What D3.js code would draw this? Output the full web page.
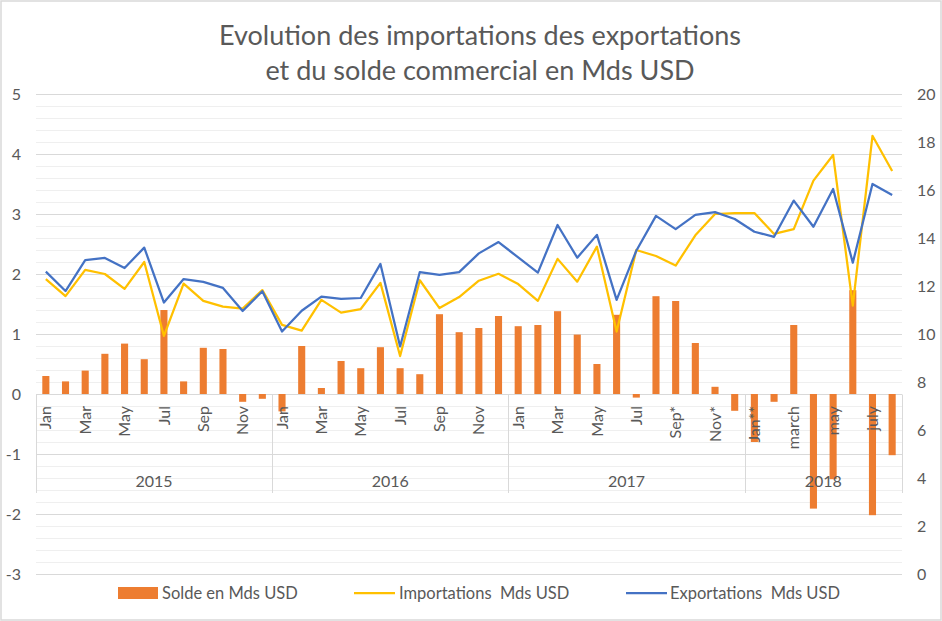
<!DOCTYPE html>
<html><head><meta charset="utf-8">
<script src="https://cdn.jsdelivr.net/npm/d3@7"></script>
<style>body{margin:0;background:#fff}svg{display:block}text{font-family:Lato,"Open Sans",sans-serif;fill:#595959;white-space:pre}</style>
</head><body>
<script>
const years = ["2015","2016","2017","2018"];
const monthLabels = [
 "Jan","Feb","Mar","Apr","May","Jun","Jul","Aug","Sep","Oct","Nov","Dec",
 "Jan","Feb","Mar","Apr","May","Jun","Jul","Aug","Sep","Oct","Nov","Dec",
 "Jan","Feb","Mar","Apr","May","Jun","Jul","Aug*","Sep*","Oct*","Nov*","Dec*",
 "Jan**","feb","march","april","may","june","july","august"];
const solde = [0.30,0.21,0.39,0.67,0.84,0.58,1.40,0.21,0.77,0.75,-0.13,-0.08,
 -0.29,0.80,0.10,0.55,0.43,0.78,0.43,0.33,1.33,1.03,1.10,1.30,
 1.13,1.15,1.38,0.99,0.50,1.32,-0.06,1.63,1.55,0.85,0.12,-0.28,
 -0.80,-0.13,1.15,-1.91,-1.42,1.73,-2.02,-1.02];
const exportations = [12.60,11.79,13.08,13.17,12.75,13.60,11.31,12.29,12.17,11.92,10.96,11.78,
 10.10,10.97,11.56,11.46,11.50,12.92,9.48,12.58,12.46,12.58,13.36,13.83,
 13.19,12.56,14.54,13.18,14.13,11.42,13.47,14.92,14.37,14.96,15.08,14.79,
 14.26,14.05,15.56,14.47,16.04,12.97,16.25,15.79];
const importations = [12.29,11.58,12.67,12.50,11.88,13.00,9.92,12.10,11.38,11.14,11.06,11.83,
 10.38,10.14,11.42,10.89,11.04,12.13,9.08,12.24,11.08,11.54,12.22,12.51,
 12.08,11.38,13.13,12.18,13.64,10.10,13.50,13.25,12.85,14.11,15.00,15.04,
 15.04,14.17,14.37,16.39,17.46,11.18,18.26,16.79];
const leftTicks = [-3,-2,-1,0,1,2,3,4,5];
const rightTicks = [0,2,4,6,8,10,12,14,16,18,20];
const seriesNames = ["Solde en Mds USD","Importations  Mds USD","Exportations  Mds USD"];
const titleLines = ["Evolution des importations des exportations","et du solde commercial en Mds USD"];

const W=942,H=621;
const L=36,R=902,T=94,B=574;
const svg=d3.select("body").append("svg").attr("width",W).attr("height",H);
svg.append("rect").attr("x",1).attr("y",1).attr("width",W-2).attr("height",H-2)
  .attr("fill","#fff").attr("stroke","#d9d9d9").attr("stroke-width",1.5);

const idx=d3.range(monthLabels.length);
const x=d3.scaleBand().domain(idx).range([L,R]).padding(0);
const yL=d3.scaleLinear().domain([-3,5]).range([B,T]);
const yR=d3.scaleLinear().domain([0,20]).range([B,T]);
const cx=i=>x(i)+x.bandwidth()/2;

// minor grid
const minor=d3.range(-3,5.001,0.2).filter(v=>Math.abs(v-Math.round(v))>1e-6);
svg.append("g").selectAll("line").data(minor).join("line")
  .attr("x1",L).attr("x2",R).attr("y1",d=>Math.round(yL(d))+0.5).attr("y2",d=>Math.round(yL(d))+0.5)
  .attr("stroke","#efefef").attr("stroke-width",1);
svg.append("g").selectAll("line").data(leftTicks).join("line")
  .attr("x1",L).attr("x2",R).attr("y1",d=>Math.round(yL(d))+0.5).attr("y2",d=>Math.round(yL(d))+0.5)
  .attr("stroke","#d9d9d9").attr("stroke-width",1);

// left axis
const gL=svg.append("g").attr("transform",`translate(21,0)`)
  .call(d3.axisLeft(yL).tickValues(leftTicks).tickSize(0).tickPadding(0).tickFormat(d=>String(d)));
gL.select(".domain").remove();
gL.selectAll("text").style("font-size","16px").attr("fill","#595959").style("font-family","Lato,sans-serif");
// right axis
const gR=svg.append("g").attr("transform",`translate(917,0)`)
  .call(d3.axisRight(yR).tickValues(rightTicks).tickSize(0).tickPadding(0).tickFormat(d=>String(d)));
gR.select(".domain").remove();
gR.selectAll("text").style("font-size","16px").attr("fill","#595959").style("font-family","Lato,sans-serif");

// category axis frame
const y0=Math.round(yL(0))+0.5, yBot=493;
svg.append("line").attr("x1",L).attr("x2",R).attr("y1",y0).attr("y2",y0).attr("stroke","#d9d9d9");
const seps=[0,12,24,36,44].map(i=> i<44? x(i) : R);
svg.append("g").selectAll("line").data(seps).join("line")
  .attr("x1",d=>Math.round(d)+0.5).attr("x2",d=>Math.round(d)+0.5).attr("y1",y0).attr("y2",yBot)
  .attr("stroke","#d9d9d9");

// bars
const bw=x.bandwidth()*0.36;
svg.append("g").selectAll("rect").data(idx).join("rect")
  .attr("x",i=>cx(i)-bw/2).attr("width",bw)
  .attr("y",i=>Math.min(yL(solde[i]),yL(0))).attr("height",i=>Math.abs(yL(solde[i])-yL(0)))
  .attr("fill","#ED7D31");

// month labels
svg.append("g").selectAll("text").data(idx.filter(i=>(i%12)%2===0)).join("text")
  .attr("transform",i=>`translate(${cx(i)},406) rotate(-90)`)
  .attr("text-anchor","end").attr("dy","0.35em").style("font-size","16px")
  .text(i=>monthLabels[i]);
// year labels
svg.append("g").selectAll("text").data(years).join("text")
  .attr("x",(d,k)=>{const s=k*12,e=Math.min(k*12+12,44);return ( x(s) + (e<44?x(e):R) )/2;})
  .attr("y",487).attr("text-anchor","middle").style("font-size","16px").text(d=>d);

// lines
const lineGen=arr=>d3.line().x(i=>cx(i)).y(i=>yR(arr[i]))(idx);
svg.append("path").attr("d",lineGen(importations)).attr("fill","none").attr("stroke","#FFC000").attr("stroke-width",2.25).attr("stroke-linejoin","round");
svg.append("path").attr("d",lineGen(exportations)).attr("fill","none").attr("stroke","#4472C4").attr("stroke-width",2.25).attr("stroke-linejoin","round");

// title
svg.append("g").selectAll("text").data(titleLines).join("text")
  .attr("x",480).attr("y",(d,k)=>45+k*35).attr("text-anchor","middle")
  .style("font-size","27px").style("font-weight","400").text(d=>d);

// legend
const lg=svg.append("g");
lg.append("rect").attr("x",118).attr("y",587).attr("width",40).attr("height",12).attr("fill","#ED7D31");
lg.append("text").attr("x",162).attr("y",593).attr("dy","0.35em").style("font-size","16.5px").text(seriesNames[0]);
lg.append("line").attr("x1",354).attr("x2",395).attr("y1",593).attr("y2",593).attr("stroke","#FFC000").attr("stroke-width",2.25);
lg.append("text").attr("x",399).attr("y",593).attr("dy","0.35em").style("font-size","16.5px").text(seriesNames[1]);
lg.append("line").attr("x1",626).attr("x2",667).attr("y1",593).attr("y2",593).attr("stroke","#4472C4").attr("stroke-width",2.25);
lg.append("text").attr("x",670).attr("y",593).attr("dy","0.35em").style("font-size","16.5px").text(seriesNames[2]);
</script>
</body></html>
